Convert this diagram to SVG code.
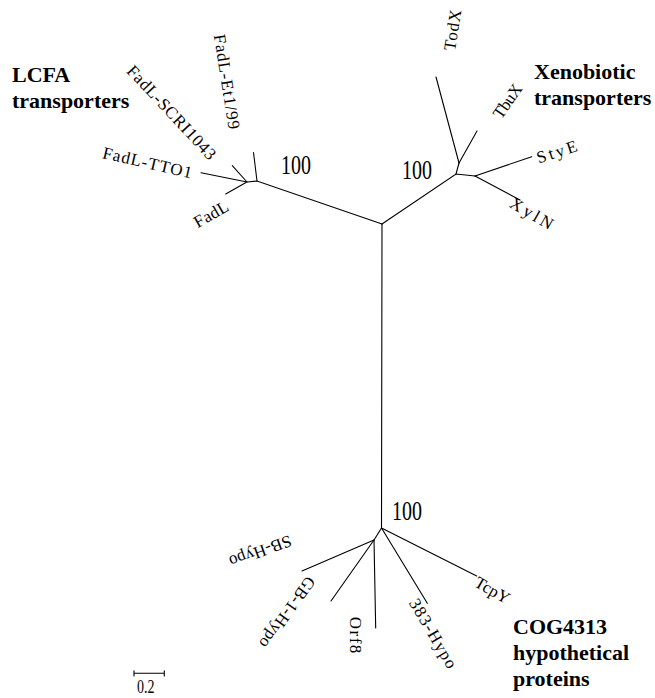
<svg xmlns="http://www.w3.org/2000/svg" width="655" height="698" viewBox="0 0 655 698">
<style>
.br{stroke:#000;stroke-width:1.1;fill:none;stroke-linecap:round}
.lb{font-family:"Liberation Serif",serif;font-size:17px;fill:#000;text-anchor:middle}
.cl{font-family:"Liberation Serif",serif;font-size:22px;font-weight:700;fill:#000}
.bs{font-family:"Liberation Serif",serif;font-size:20px;fill:#000}
</style>
<rect width="655" height="698" fill="#fff"/>
<g id="connectors" class="br">
<polyline points="382,224 257,181 247,182"/>
<line x1="257" y1="181" x2="253.5" y2="152.5"/>
<line x1="247" y1="182" x2="232.3" y2="165.7"/>
<line x1="247" y1="182" x2="201" y2="172.7"/>
<line x1="246" y1="182.5" x2="225.7" y2="194"/>
<polyline points="382,224 456,174 475,176"/>
<line x1="456" y1="174" x2="459" y2="163"/>
<line x1="459" y1="163" x2="436" y2="77"/>
<line x1="459" y1="163" x2="477" y2="131"/>
<line x1="475" y1="176" x2="531.7" y2="156.7"/>
<line x1="475" y1="176" x2="520" y2="200"/>
<polyline points="382,224 381.5,528 374,540"/>
<line x1="374" y1="540" x2="302" y2="571"/>
<line x1="374" y1="540" x2="331" y2="601"/>
<line x1="374" y1="540" x2="375.7" y2="628"/>
<line x1="381.5" y1="528" x2="427.3" y2="603.3"/>
<line x1="381.5" y1="528" x2="476.7" y2="576"/>
</g>
<g id="bootstrap">
<text class="bs" transform="translate(281,174) scale(1,1.4)">100</text>
<text class="bs" transform="translate(402,179) scale(1,1.4)">100</text>
<text class="bs" transform="translate(392,520) scale(1,1.4)">100</text>
</g>
<g id="clade-lcfa">
<text class="cl" x="12" y="82">LCFA</text>
<text class="cl" x="12" y="108">transporters</text>
</g>
<g id="clade-xeno">
<text class="cl" x="534" y="79">Xenobiotic</text>
<text class="cl" x="534" y="105">transporters</text>
</g>
<g id="clade-cog">
<text class="cl" x="513" y="634">COG4313</text>
<text class="cl" x="513" y="660">hypothetical</text>
<text class="cl" x="513" y="686">proteins</text>
</g>
<g id="node-FadL-Et1-99"><text class="lb" dy=".34em" textLength="96" transform="translate(227,81.7) rotate(81)">FadL-Et1/99</text></g>
<g id="node-FadL-SCRI1043"><text class="lb" dy=".34em" textLength="122" transform="translate(171.7,112.3) rotate(47)">FadL-SCRI1043</text></g>
<g id="node-FadL-TTO1"><text class="lb" dy=".34em" textLength="91" transform="translate(147.5,162.5) rotate(13)">FadL-TTO1</text></g>
<g id="node-FadL"><text class="lb" dy=".34em" textLength="37" transform="translate(211,214) rotate(-30)">FadL</text></g>
<g id="node-TodX"><text class="lb" dy=".34em" textLength="41" transform="translate(452.5,30) rotate(-81)">TodX</text></g>
<g id="node-TbuX"><text class="lb" dy=".34em" textLength="38" transform="translate(507.5,101) rotate(-55)">TbuX</text></g>
<g id="node-StyE"><text class="lb" dy=".34em" textLength="41.6" transform="translate(556.7,151.7) rotate(-18)">StyE</text></g>
<g id="node-XylN"><text class="lb" dy=".34em" textLength="47" transform="translate(531.7,213.3) rotate(30)">XylN</text></g>
<g id="node-SB-Hypo"><text class="lb" dy=".34em" textLength="65" transform="translate(260.5,551.5) rotate(160)">SB-Hypo</text></g>
<g id="node-GB-1-Hypo"><text class="lb" dy=".34em" textLength="83.5" transform="translate(287.5,612.5) rotate(125.5)">GB-1-Hypo</text></g>
<g id="node-Orf8"><text class="lb" dy=".34em" textLength="36.6" transform="translate(355.8,635) rotate(90)">Orf8</text></g>
<g id="node-383-Hypo"><text class="lb" dy=".34em" textLength="78" transform="translate(433.3,633.3) rotate(59.5)">383-Hypo</text></g>
<g id="node-TcpY"><text class="lb" dy=".34em" textLength="37.5" transform="translate(492.5,590) rotate(30)">TcpY</text></g>
<g id="scale-bar">
<path class="br" d="M134,673.3H164.3M134,670.7V676M164.3,670.7V676"/>
<text class="bs" style="font-size:14px" transform="translate(137,693) scale(1,1.35)">0.2</text>
</g>
</svg>
